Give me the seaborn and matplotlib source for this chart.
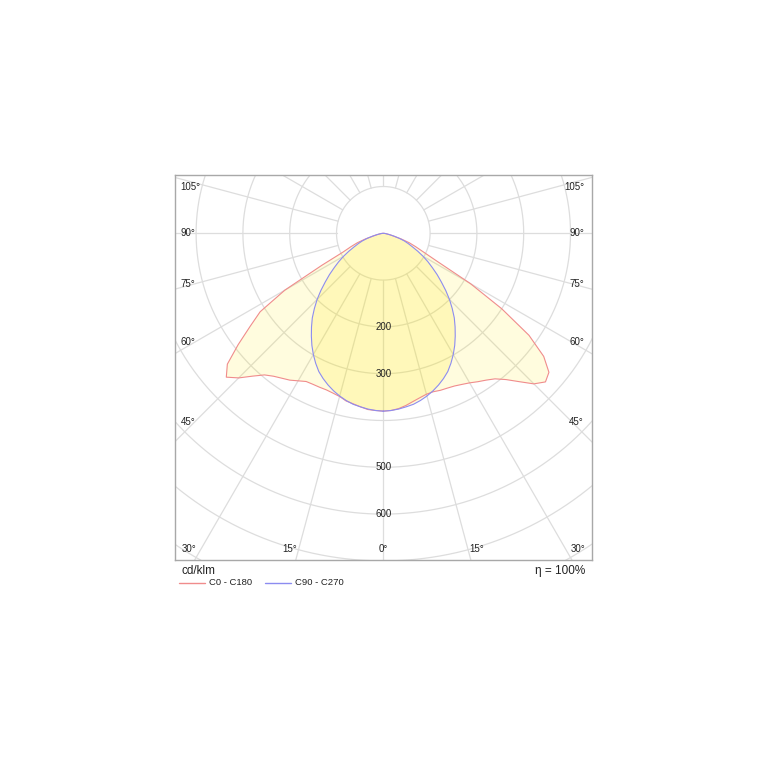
import numpy as np
import pandas as pd
import matplotlib
matplotlib.use("Agg")
import matplotlib.pyplot as plt
from matplotlib.lines import Line2D
import seaborn as sns

# ---------------- data (cd/klm), gamma angle measured from nadir ----------------
gamma = [0, 2.5, 5, 7.5, 10, 12.5, 15, 17.5, 20, 22.5, 25, 27.5, 30, 32.5, 35, 37.5,
         40, 42.5, 45, 47.5, 50, 52.5, 55, 57.5, 60, 62.5, 65, 67.5, 70, 72.5, 75,
         77.5, 80, 82.5, 85, 87.5, 90]
c0 = [380, 379, 376, 371, 365, 360, 356, 355, 357, 358, 360, 364, 369, 376, 383, 392,
      408, 430, 455, 470, 462, 432, 380, 300, 215, 130, 95, 75, 59, 40, 22,
      14, 8, 5, 3, 1, 0]
c180 = [380, 379, 378, 374, 370, 367, 361, 358, 356, 356, 356, 357, 364, 372, 378, 385,
        395, 414, 437, 455, 435, 391, 348, 312, 243, 148, 95, 75, 59, 40, 22,
        14, 8, 5, 3, 1, 0]
c90_270 = [380, 379, 377, 374, 371, 366, 360, 353, 345, 336, 326, 313, 299, 284, 268, 252,
           236, 218, 200, 181, 162, 145, 128, 113, 98, 83, 69, 58, 48, 36, 24,
           15, 9, 5, 3, 1, 0]

ring_values = [100, 200, 300, 400, 500, 600, 700, 800, 900, 1000]
ring_labels = [200, 300, 500, 600]
spoke_angles = list(range(0, 360, 15))
side_label_angles = [45, 60, 75, 90, 105]
bottom_label_angles = [0, 15, 30]
legend_names = ["C0 - C180", "C90 - C270"]
unit_label = "cd/klm"
eff_label = "η = 100%"

RED = "#F08C8C"
BLUE = "#8C8CF0"
FILL = "#FFE800"
GRID = "#DDDDDD"

# ---------------- setup ----------------
sns.set_theme(style="white")
plt.rcParams["font.family"] = ["Liberation Sans", "DejaVu Sans"]

W = 767
fig = plt.figure(figsize=(W / 100, W / 100), dpi=100)
fig.patch.set_facecolor("white")

# pixel geometry of the plotting frame
bx0, bx1, by0, by1 = 175, 592, 175, 560
cx, cy = 383.3, 233.3
s = 0.468  # px per cd/klm

ax = fig.add_axes([bx0 / W, 1 - by1 / W, (bx1 - bx0) / W, (by1 - by0) / W])
ax.set_xlim((bx0 - cx) / s, (bx1 - cx) / s)
ax.set_ylim(-(by1 - cy) / s, (cy - by0) / s)
ax.set_aspect("auto")
ax.set_xticks([])
ax.set_yticks([])
ax.set_facecolor("white")
for sp in ax.spines.values():
    sp.set_color("#A8A8A8")
    sp.set_linewidth(1.0)
    sp.set_visible(True)

# ---------------- grid ----------------
t = np.linspace(0, 2 * np.pi, 721)
for rv in ring_values:
    ax.plot(rv * np.sin(t), rv * np.cos(t), color=GRID, lw=0.9, zorder=1)
for a in spoke_angles:
    ar = np.deg2rad(a)
    r_in, r_out = ring_values[0], 1200
    ax.plot([r_in * np.sin(ar), r_out * np.sin(ar)],
            [-r_in * np.cos(ar), -r_out * np.cos(ar)], color=GRID, lw=0.9, zorder=1)

# ---------------- curves ----------------
g = np.deg2rad(np.array(gamma))


def outline(right, left):
    right = np.array(right, float)
    left = np.array(left, float)
    xr = right * np.sin(g)
    yr = -right * np.cos(g)
    xl = -left[::-1] * np.sin(g[::-1])
    yl = -left[::-1] * np.cos(g[::-1])
    return np.concatenate([xr, xl]), np.concatenate([yr, yl])


x1, y1 = outline(c0, c180)
x2, y2 = outline(c90_270, c90_270)

ax.fill(x1, y1, color=FILL, alpha=0.13, lw=0, zorder=2)
ax.fill(x2, y2, color=FILL, alpha=0.16, lw=0, zorder=2)

df1 = pd.DataFrame({"x": x1, "y": y1})
df2 = pd.DataFrame({"x": x2, "y": y2})
sns.lineplot(data=df1, x="x", y="y", sort=False, estimator=None, color=RED,
             lw=0.8, ax=ax, zorder=3)
sns.lineplot(data=df2, x="x", y="y", sort=False, estimator=None, color=BLUE,
             lw=0.8, ax=ax, zorder=3)
ax.set_xlabel("")
ax.set_ylabel("")

# ---------------- labels ----------------
fs_small = 7
tc = "#222222"
for rv in ring_labels:
    ax.text(0, -rv, str(rv), ha="center", va="center", fontsize=fs_small, color=tc, zorder=4)

D = 196.3 / s
xl_left = (180.5 - cx) / s
xl_right = (584 - cx) / s
for a in side_label_angles:
    ar = np.deg2rad(a)
    k = 0.96 if a <= 90 else 0.875
    yd = -k * D * np.cos(ar) / np.sin(ar)
    ax.text(xl_left, yd, f"{a}°", ha="left", va="center", fontsize=fs_small, color=tc, zorder=4)
    ax.text(xl_right, yd, f"{a}°", ha="right", va="center", fontsize=fs_small, color=tc, zorder=4)

yb = -(549.3 - cy) / s
for a in bottom_label_angles:
    ar = np.deg2rad(a)
    xd = np.tan(ar) * (by1 - cy) / s + (13 if a else 0)
    ax.text(xd, yb, f"{a}°", ha="center", va="center", fontsize=fs_small, color=tc, zorder=4)
    if a:
        ax.text(-xd, yb, f"{a}°", ha="center", va="center", fontsize=fs_small, color=tc, zorder=4)

# unit / efficiency
fig.text(181 / W, 1 - 571.5 / W, unit_label, ha="left", va="center", fontsize=8.5, color=tc)
fig.text(585 / W, 1 - 571 / W, eff_label, ha="right", va="center", fontsize=8.5, color=tc)

# legend
leg_y = 1 - 582.5 / W
for (lx0, lx1, tx), name, col in zip([(179, 205, 209), (265, 291, 295)], legend_names, [RED, BLUE]):
    fig.add_artist(Line2D([lx0 / W, lx1 / W], [leg_y, leg_y], color=col, lw=1.0))
    fig.text(tx / W, leg_y, name, ha="left", va="center", fontsize=6.8, color=tc)

fig.savefig("out.png", dpi=100, facecolor="white")
